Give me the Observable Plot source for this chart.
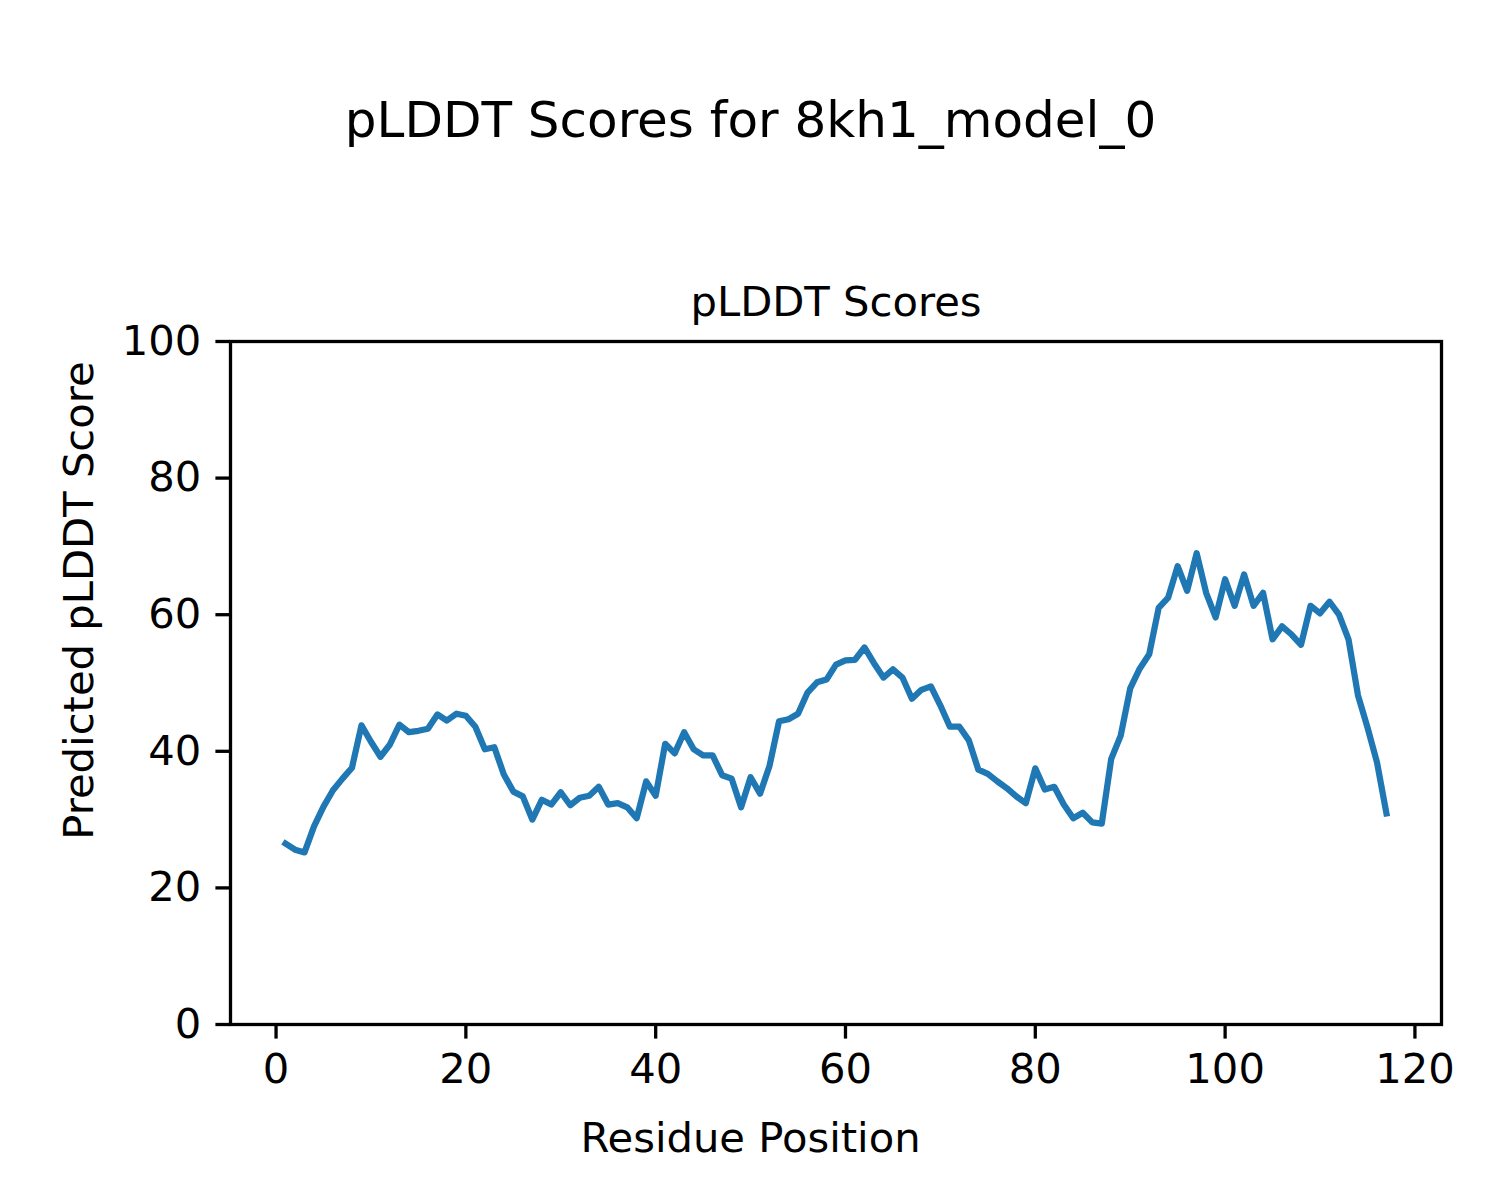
<!DOCTYPE html>
<html>
<head>
<meta charset="utf-8">
<script src="https://cdn.jsdelivr.net/npm/d3@7"></script>
<script src="https://cdn.jsdelivr.net/npm/@observablehq/plot@0.6"></script>
<style>
  html, body { margin: 0; padding: 0; background: #fff; }
  #chart { width: 1500px; height: 1200px; }
</style>
</head>
<body>
<div id="chart"></div>
<script>
const figureTitle = "pLDDT Scores for 8kh1_model_0";
const axesTitle = "pLDDT Scores";
const xLabel = "Residue Position";
const yLabel = "Predicted pLDDT Score";

const residues = d3.range(1, 118);
const plddt = [
  26.5, 25.6, 25.2, 29.0, 31.9, 34.3, 36.0, 37.6, 43.8, 41.4,
  39.2, 41.0, 43.9, 42.8, 43.0, 43.3, 45.4, 44.5, 45.5, 45.2,
  43.6, 40.3, 40.6, 36.6, 34.1, 33.4, 30.0, 32.9, 32.2, 34.0,
  32.1, 33.2, 33.5, 34.8, 32.2, 32.4, 31.8, 30.2, 35.6, 33.5,
  41.1, 39.7, 42.8, 40.3, 39.4, 39.4, 36.5, 36.0, 31.8, 36.2,
  33.8, 37.9, 44.4, 44.7, 45.5, 48.6, 50.1, 50.5, 52.7, 53.3,
  53.4, 55.2, 52.9, 50.8, 52.0, 50.8, 47.7, 49.0, 49.5, 46.7,
  43.6, 43.6, 41.6, 37.3, 36.7, 35.6, 34.6, 33.4, 32.4, 37.5,
  34.4, 34.8, 32.2, 30.2, 31.0, 29.6, 29.4, 38.9, 42.3, 49.2,
  52.1, 54.2, 61.0, 62.5, 67.1, 63.5, 69.0, 63.2, 59.6, 65.2,
  61.3, 65.9, 61.3, 63.2, 56.4, 58.3, 57.1, 55.6, 61.3, 60.2,
  61.9, 60.0, 56.4, 48.2, 43.5, 38.4, 30.9
];
const xTicks = [0, 20, 40, 60, 80, 100, 120];
const yTicks = [0, 20, 40, 60, 80, 100];

const data = residues.map((r, i) => ({residue: r, score: plddt[i]}));

const chart = Plot.plot({
  width: 1500,
  height: 1200,
  marginLeft: 230,
  marginRight: 59,
  marginTop: 341,
  marginBottom: 176,
  style: {fontFamily: "DejaVu Sans", fontSize: "41.7px", color: "black", background: "white"},
  x: {domain: [-4.8, 122.8]},
  y: {domain: [0, 100]},
  marks: [
    Plot.line(data, {x: "residue", y: "score", stroke: "#1f77b4", strokeWidth: 6.25, strokeLinejoin: "round", strokeLinecap: "square"}),
    Plot.frame({stroke: "black", strokeWidth: 3.3}),
    Plot.axisX({ticks: xTicks, tickSize: 14.6, tickPadding: 14.6, strokeWidth: 3.3, label: null, fontSize: 41.7}),
    Plot.axisY({ticks: yTicks, tickSize: 14.6, tickPadding: 14.6, strokeWidth: 3.3, label: null, fontSize: 41.7}),
    Plot.text([figureTitle], {text: d => d, frameAnchor: "top", lineAnchor: "middle", dx: -85.5, dy: -221, fontSize: 50, fill: "black"}),
    Plot.text([axesTitle], {text: d => d, frameAnchor: "top", lineAnchor: "middle", dy: -39, fontSize: 41.7, fill: "black"}),
    Plot.text([xLabel], {text: d => d, frameAnchor: "bottom", lineAnchor: "middle", dx: -85.5, dy: 114, fontSize: 41.7, fill: "black"}),
    Plot.text([yLabel], {text: d => d, frameAnchor: "left", lineAnchor: "middle", textAnchor: "middle", dx: -151.3, dy: -82.5, rotate: -90, fontSize: 41.7, fill: "black"})
  ]
});
document.getElementById("chart").appendChild(chart);
</script>
</body>
</html>
